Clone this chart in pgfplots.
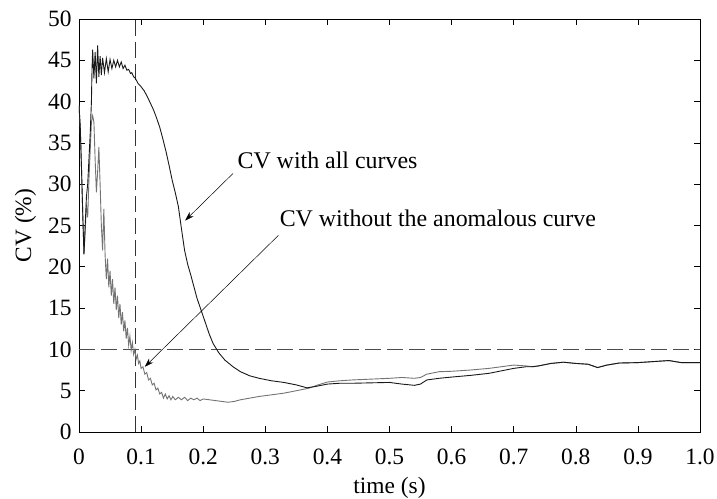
\documentclass[border=0pt]{standalone}
\usepackage{pgfplots}
\pgfplotsset{compat=1.18}
\usepackage{fontspec}
\setmainfont{Liberation Serif}
\usetikzlibrary{arrows.meta}

\begin{document}
\begin{tikzpicture}
\begin{axis}[
    scale only axis,
    width=621bp, height=413bp,
    xmin=0, xmax=1, ymin=0, ymax=50,
    xtick={0,0.1,...,1.0},
    xticklabels={0,0.1,0.2,0.3,0.4,0.5,0.6,0.7,0.8,0.9,1.0},
    ytick={0,5,...,50},
    tick align=inside,
    major tick length=6bp,
    tick style={black, line width=0.6bp},
    axis line style={black, line width=0.9bp},
    /pgf/number format/assume math mode=true,
    every tick label/.append style={font=\fontsize{23.5}{27}\selectfont},
    xticklabel style={yshift=-13bp},
    yticklabel style={xshift=-4bp},
    xlabel={time (s)},
    ylabel={CV (\%)},
    label style={font=\fontsize{23.5}{27}\selectfont},
    xlabel style={yshift=-6bp},
    ylabel style={yshift=5bp},
    clip=true,
]

% threshold lines
\addplot[black!70, line width=0.9bp, dash pattern=on 16bp off 6bp] coordinates {(0,10)(1,10)};
\addplot[black!80, line width=0.9bp, dash pattern=on 16bp off 6bp] coordinates {(0.091,0)(0.091,50)};

% CV without the anomalous curve
\addplot[black!55, line width=0.9bp] coordinates {
(0,39.5)(0.002,37)(0.004,32)(0.006,26.5)(0.008,21.5)(0.010,24.5)(0.012,27.5)(0.014,26)(0.016,30.5)(0.018,34)
(0.020,37.5)(0.022,38.3)(0.024,37.5)(0.026,33)(0.028,29)(0.030,31.5)(0.032,34.5)(0.034,30)(0.036,25)(0.038,22)
(0.040,27)(0.042,21.5)(0.044,18.5)(0.046,21)(0.048,17.5)(0.050,19.5)(0.052,16.5)(0.054,18.5)(0.056,15.5)(0.058,17.5)
(0.060,14.8)(0.062,16.5)(0.064,13.8)(0.066,15.5)(0.068,13)(0.070,14.5)(0.072,12.2)(0.074,13.5)(0.076,11.3)(0.078,12.6)
(0.080,10.5)(0.082,11.6)(0.084,9.9)(0.086,10.8)(0.088,9.4)(0.090,10)(0.092,8.8)(0.094,9.3)(0.096,8.3)(0.098,8.6)
(0.100,7.7)(0.103,7.9)(0.106,7.0)(0.109,7.2)(0.112,6.3)(0.115,6.5)(0.118,5.7)(0.121,5.9)(0.124,5.1)(0.127,5.3)
(0.130,4.6)(0.133,4.8)(0.136,4.1)(0.139,4.6)(0.142,4.0)(0.145,4.4)(0.148,3.9)(0.151,4.3)(0.155,3.9)(0.16,4.2)
(0.165,3.9)(0.17,4.2)(0.175,3.8)(0.18,4.1)(0.185,3.9)(0.19,4.1)(0.195,3.8)(0.2,4.0)(0.21,3.9)(0.22,3.8)
(0.23,3.7)(0.24,3.6)(0.25,3.7)(0.26,3.9)(0.275,4.1)(0.29,4.3)(0.31,4.5)(0.33,4.7)(0.35,5.0)(0.37,5.3)
(0.385,5.7)(0.40,6.05)(0.42,6.2)(0.44,6.3)(0.47,6.4)(0.50,6.5)(0.52,6.6)(0.54,6.5)(0.55,6.6)(0.56,7.0)
(0.58,7.3)(0.60,7.35)(0.63,7.5)(0.66,7.7)(0.68,7.9)(0.70,8.1)(0.72,8.0)(0.73,7.9)
(0.74,8.0)(0.76,8.3)(0.78,8.45)(0.80,8.3)(0.82,8.2)(0.835,7.8)(0.85,8.1)(0.87,8.35)(0.90,8.4)(0.92,8.5)
(0.95,8.65)(0.97,8.4)(1.0,8.4)
};

% CV with all curves
\addplot[black!90, line width=0.9bp] coordinates {
(0,39.5)(0.002,37)(0.004,32)(0.006,26.5)(0.008,21.5)(0.010,25)(0.012,28.5)(0.014,30)(0.016,33)(0.018,36)
(0.020,40)(0.021,44)(0.022,46.3)(0.024,42.8)(0.026,46)(0.028,42.2)(0.030,46.8)(0.032,43)(0.034,45.5)(0.036,43.2)
(0.038,45.3)(0.041,43.5)(0.044,45.2)(0.047,43.6)(0.050,45.1)(0.053,44)(0.056,45)(0.059,44.2)(0.062,45)(0.065,44.2)
(0.068,44.8)(0.071,44)(0.074,44.4)(0.077,43.8)(0.08,43.9)(0.083,43.4)(0.085,43.5)(0.088,43.0)(0.09,42.9)
(0.093,42.5)(0.095,42.2)(0.1,41.8)(0.105,41.3)(0.11,40.6)(0.115,39.8)(0.12,39.0)(0.125,38.0)
(0.13,36.9)(0.135,35.5)(0.14,34.0)(0.145,32.3)(0.15,30.5)(0.155,29)(0.16,27.3)(0.165,24.6)(0.17,22)(0.175,20.3)
(0.18,19)(0.185,17.6)(0.19,16.2)(0.195,15.1)(0.2,14.0)(0.205,12.9)(0.21,11.8)(0.216,10.7)(0.225,9.6)(0.235,8.7)
(0.248,7.9)(0.26,7.3)(0.275,6.8)(0.29,6.5)(0.31,6.2)(0.33,6.0)(0.35,5.7)(0.367,5.35)(0.38,5.5)(0.40,5.8)
(0.42,5.9)(0.44,5.9)(0.47,5.95)(0.50,6.0)(0.52,5.8)(0.54,5.65)(0.55,5.8)(0.56,6.3)(0.58,6.5)(0.60,6.65)
(0.63,6.85)(0.66,7.1)(0.68,7.4)(0.70,7.7)(0.72,7.9)(0.73,7.9)
(0.74,8.0)(0.76,8.3)(0.78,8.45)(0.80,8.3)(0.82,8.2)(0.835,7.8)(0.85,8.1)(0.87,8.35)(0.90,8.4)(0.92,8.5)
(0.95,8.65)(0.97,8.4)(1.0,8.4)
};

% annotations
\draw[-{Stealth[length=9bp,width=6bp]}, line width=0.5bp] (axis cs:0.248,31.3) -- (axis cs:0.171,25.6);
\draw[-{Stealth[length=9bp,width=6bp]}, line width=0.5bp] (axis cs:0.321,23.8) -- (axis cs:0.106,7.9);
\node[anchor=west, inner sep=0pt, font=\fontsize{24}{28}\selectfont] at (axis cs:0.255,32.9) {CV with all curves};
\node[anchor=west, inner sep=0pt, font=\fontsize{24}{28}\selectfont] at (axis cs:0.323,25.8) {CV without the anomalous curve};
\end{axis}
\pgfresetboundingbox
\path[use as bounding box] ([shift={(-79bp,-67bp)}]current axis.south west) rectangle ([shift={(17bp,19bp)}]current axis.north east);
\end{tikzpicture}
\end{document}
